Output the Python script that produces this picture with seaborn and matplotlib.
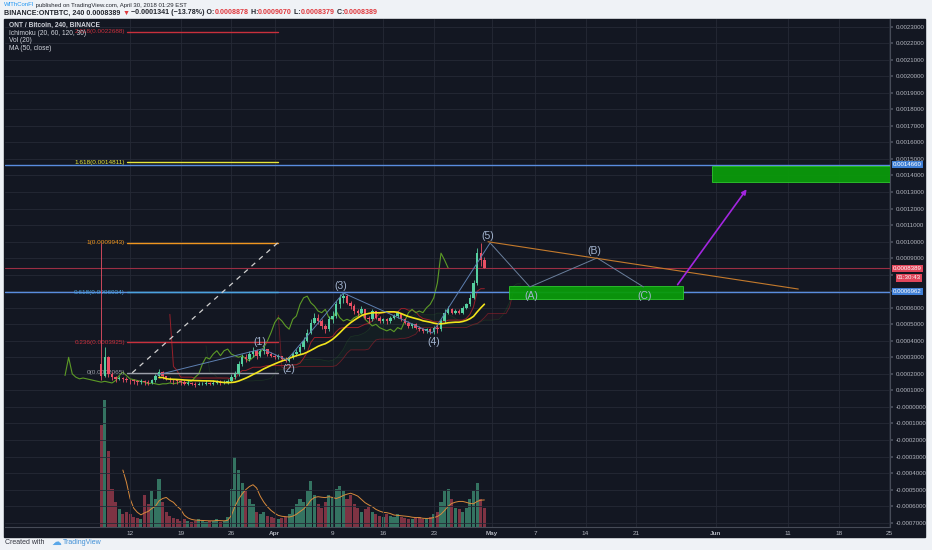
import numpy as np
import pandas as pd
import matplotlib
matplotlib.use("Agg")
import matplotlib.pyplot as plt
from matplotlib.patches import Rectangle
from matplotlib.ticker import FuncFormatter, FixedLocator
from matplotlib.transforms import blended_transform_factory
import seaborn as sns

# ONT/BTC, 12h candles (Mar 8 - Apr 30 2018)
first_open = 0.00026
close = [0.00019, 0.00030, 0.00020, 0.00018, 0.00017, 0.000175, 0.00017, 0.000165,
         0.00016, 0.000155, 0.00015, 0.000155, 0.00015, 0.000145, 0.00016, 0.00019,
         0.00021, 0.00019, 0.00017, 0.000165, 0.00016, 0.000155, 0.00015, 0.00014,
         0.000145, 0.00014, 0.000135, 0.00014, 0.00014, 0.000145, 0.00014, 0.000145,
         0.00015, 0.000145, 0.00015, 0.000155, 0.00018, 0.00020, 0.00026, 0.00030,
         0.00029, 0.00032, 0.00034, 0.00031, 0.00034, 0.00035, 0.00032, 0.00031,
         0.00030, 0.00031, 0.00029, 0.00028, 0.00030, 0.00032, 0.00033, 0.00036,
         0.00040, 0.00045, 0.00051, 0.00054, 0.00052, 0.00049, 0.00047, 0.00053,
         0.00055, 0.00062, 0.00066, 0.00067, 0.00063, 0.00061, 0.00058, 0.00057,
         0.00059, 0.00054, 0.00053, 0.00058, 0.00054, 0.00052, 0.00053, 0.00052,
         0.00054, 0.00055, 0.00057, 0.00053, 0.00051, 0.00049, 0.00050, 0.00048,
         0.00047, 0.00046, 0.00047, 0.000455, 0.00048, 0.00047, 0.00052, 0.00057,
         0.00059, 0.00057, 0.00058, 0.00057, 0.00060, 0.00062, 0.00066, 0.00075,
         0.00093, 0.0008878, 0.0008389]
high = [0.00099, 0.00036, 0.00031, 0.00021, 0.00019, 0.00019, 0.00018, 0.00018,
        0.00017, 0.00017, 0.00016, 0.00017, 0.00016, 0.00016, 0.00017, 0.00020,
        0.00023, 0.00022, 0.00019, 0.00018, 0.00017, 0.00017, 0.00016, 0.00016,
        0.00016, 0.00015, 0.00015, 0.00015, 0.00015, 0.00016, 0.00015, 0.00016,
        0.00016, 0.00016, 0.00016, 0.00017, 0.00020, 0.00022, 0.00028, 0.00032,
        0.00032, 0.00034, 0.00036, 0.00035, 0.00035, 0.00037, 0.00035, 0.00033,
        0.00032, 0.00032, 0.00031, 0.00030, 0.00031, 0.00033, 0.00035, 0.00038,
        0.00042, 0.00047, 0.00053, 0.00057, 0.00056, 0.00053, 0.00050, 0.00055,
        0.00058, 0.00064, 0.00068, 0.00069, 0.00068, 0.00064, 0.00062, 0.00059,
        0.00061, 0.00059, 0.00055, 0.00059, 0.00058, 0.00055, 0.00054, 0.00054,
        0.00055, 0.00056, 0.00058, 0.00057, 0.00054, 0.00052, 0.00051, 0.00051,
        0.00049, 0.00048, 0.00048, 0.00048, 0.00049, 0.00050, 0.00053, 0.00059,
        0.00061, 0.00060, 0.00059, 0.00059, 0.00061, 0.00063, 0.00068, 0.00077,
        0.00096, 0.00099, 0.000907]
low = [0.00016, 0.00018, 0.00018, 0.00016, 0.00015, 0.00016, 0.00015, 0.00015,
       0.00014, 0.00014, 0.00013, 0.00014, 0.00013, 0.00013, 0.00014, 0.00015,
       0.00018, 0.00017, 0.00016, 0.00015, 0.00014, 0.00014, 0.00013, 0.00013,
       0.00013, 0.00013, 0.00012, 0.00013, 0.00013, 0.00013, 0.00013, 0.00013,
       0.00014, 0.00013, 0.00014, 0.00014, 0.00015, 0.00017, 0.00019, 0.00025,
       0.00027, 0.00028, 0.00030, 0.00029, 0.00030, 0.00032, 0.00031, 0.00030,
       0.00029, 0.00029, 0.00028, 0.00027, 0.00027, 0.00029, 0.00031, 0.00032,
       0.00035, 0.00039, 0.00044, 0.00050, 0.00050, 0.00047, 0.00045, 0.00046,
       0.00051, 0.00054, 0.00060, 0.00063, 0.00062, 0.00059, 0.00056, 0.00055,
       0.00056, 0.00053, 0.00051, 0.00052, 0.00053, 0.00051, 0.00051, 0.00050,
       0.00051, 0.00053, 0.00054, 0.00052, 0.00050, 0.00048, 0.00048, 0.00047,
       0.00046, 0.00045, 0.00045, 0.00044, 0.00044, 0.00045, 0.00046, 0.00051,
       0.00056, 0.00056, 0.00056, 0.00056, 0.00056, 0.00059, 0.00061, 0.00065,
       0.00074, 0.00085, 0.0008379]
volume = [80, 100, 60, 30, 20, 14, 10, 12, 10, 8, 7, 6, 25, 18, 28, 22,
          38, 20, 12, 9, 7, 6, 5, 6, 5, 4, 5, 6, 5, 4, 5, 5,
          6, 4, 5, 8, 30, 55, 45, 35, 28, 22, 18, 12, 10, 12, 9, 8,
          7, 6, 7, 8, 10, 14, 18, 22, 20, 28, 36, 25, 18, 15, 20, 25,
          24, 30, 32, 28, 22, 25, 18, 15, 12, 14, 16, 12, 10, 9, 8, 10,
          9, 8, 10, 8, 7, 6, 6, 7, 8, 6, 7, 8, 10, 12, 20, 28,
          30, 22, 15, 14, 12, 15, 22, 28, 35, 22, 15]

# drawings on the chart
fib_ratios = [2.618, 1.618, 1, 0.618, 0.236, 0]
fib_prices = [0.0022688, 0.0014811, 0.0009943, 0.0006934, 0.0003925, 0.0002065]
fib_start, fib_end = "2018-03-11 14:00", "2018-04-01 11:00"
hline_prices = [0.0014660, 0.0006962]
last_price = 0.0008389
wave_labels = ["", "(1)", "(2)", "(3)", "(4)", "(5)", "(A)", "(B)", "(C)"]
wave_dates = ["2018-03-15 17:00", "2018-03-30 07:00", "2018-04-02 17:00", "2018-04-10 12:00",
              "2018-04-22 19:00", "2018-04-30 19:00", "2018-05-06 07:00", "2018-05-15 14:00",
              "2018-05-22 00:00"]
wave_prices = [0.000193, 0.000351, 0.000284, 0.000689, 0.000447, 0.000992, 0.000726, 0.000901, 0.000726]
zones = [("2018-05-03 10:00", "2018-05-27 12:00", 0.000653, 0.000732),
         ("2018-05-31 10:00", "2018-07-01 00:00", 0.001360, 0.001455)]
trend_dates = ["2018-04-30 12:00", "2018-06-12 10:00"]
trend_prices = [0.000999, 0.000713]
arrow_dates = ["2018-05-26 12:00", "2018-06-05 12:00"]
arrow_prices = [0.000726, 0.001330]
tick_dates = ["2018-03-12", "2018-03-19", "2018-03-26", "2018-04-01", "2018-04-09", "2018-04-16",
              "2018-04-23", "2018-05-01", "2018-05-07", "2018-05-14", "2018-05-21", "2018-06-01",
              "2018-06-11", "2018-06-18", "2018-06-25"]
tick_labels = ["12", "19", "26", "Apr", "9", "16", "23", "May", "7", "14", "21", "Jun", "11", "18", "25"]

df = pd.DataFrame({"date": pd.date_range("2018-03-08", periods=len(close), freq="12h"),
                   "close": close, "high": high, "low": low, "volume": volume})
df["open"] = df["close"].shift(1).fillna(first_open)
df["up"] = df["close"] >= df["open"]

# indicators (periods scaled from 4h to 12h bars)
def midpoint(n):
    return (df["high"].rolling(n).max() + df["low"].rolling(n).min()) / 2

df["ma50"] = df["close"].rolling(17).mean()
df["vol_ma"] = df["volume"].rolling(7).mean()
df["base"] = midpoint(20)
df["span_a"] = (midpoint(7) + df["base"]) / 2
df["span_b"] = midpoint(40)
shift = pd.Timedelta(days=5)

sns.set_theme(style="dark")
plt.rcParams["font.family"] = ["Liberation Sans", "DejaVu Sans"]

BG = "#131722"
UP, DOWN = "#56d0a0", "#ea5064"
TXT = "#b2b5be"

fig = plt.figure(figsize=(9.32, 5.5), dpi=100, facecolor="#eff2f6")
fig.patches.append(Rectangle((4 / 932, 13 / 550), 921 / 932, 518 / 550,
                             transform=fig.transFigure, color=BG, zorder=-5))
ax = fig.add_axes([5 / 932, 23 / 550, 885 / 932, 508 / 550])
vax = ax.twinx()
vax.set_zorder(1)
ax.set_zorder(2)
ax.patch.set_visible(False)
vax.set_facecolor(BG)

# volume
vol_colors = np.where(df["up"], UP, DOWN)
vax.bar(df["date"], df["volume"], width=0.42, color=vol_colors, alpha=0.5, linewidth=0)
sns.lineplot(data=df, x="date", y="vol_ma", ax=vax, color="#d88a3c", lw=0.7)
vax.set_ylim(0, 400)
vax.set_yticks([])
vax.set_ylabel("")
for s in vax.spines.values():
    s.set_visible(False)

# ichimoku
cloud_x = df["date"] + shift
ax.fill_between(cloud_x, df["span_a"], df["span_b"], where=df["span_a"] >= df["span_b"],
                color="#2e7d32", alpha=0.07, lw=0)
ax.fill_between(cloud_x, df["span_a"], df["span_b"], where=df["span_a"] < df["span_b"],
                color="#c62828", alpha=0.06, lw=0)
sns.lineplot(x=cloud_x, y=df["span_a"], ax=ax, color="#2a5a2a", lw=0.5, alpha=0.4)
sns.lineplot(x=cloud_x, y=df["span_b"], ax=ax, color="#8e1f2a", lw=0.6, alpha=0.7)
sns.lineplot(data=df, x="date", y="base", ax=ax, color="#99202a", lw=0.7)
sns.lineplot(x=df["date"] - shift, y=df["close"], ax=ax, color="#5c9a26", lw=0.8)

# candles
colors = np.where(df["up"], UP, DOWN)
ax.vlines(df["date"], df["low"], df["high"], colors=colors, lw=0.6, zorder=4)
ax.bar(df["date"], (df["close"] - df["open"]).abs(), bottom=df[["open", "close"]].min(axis=1),
       width=0.34, color=colors, linewidth=0, zorder=4)
sns.lineplot(data=df, x="date", y="ma50", ax=ax, color="#f3e41c", lw=1.2, zorder=5)

# horizontal lines
for p in hline_prices:
    ax.axhline(p, color="#5a8ddf", lw=1.0, zorder=3)
ax.axhline(last_price, color="#9b2e44", lw=0.8, zorder=3)

# fibonacci
fib_colors = ["#c9303c", "#e6e63a", "#f0961e", "#4aa3df", "#c9303c", "#9b9ea8"]
f0, f1 = pd.Timestamp(fib_start), pd.Timestamp(fib_end)
for r, p, c in zip(fib_ratios, fib_prices, fib_colors):
    ax.plot([f0, f1], [p, p], color=c, lw=1.0, zorder=3)
    ax.annotate(f"{r:g}({p:.7f})", xy=(f0, p), xytext=(-1.5, 0), textcoords="offset points",
                ha="right", va="center", fontsize=4.6, color=c)
ax.plot([pd.Timestamp("2018-03-12 07:00"), f1], [fib_prices[-1], fib_prices[2]],
        color="#d0d0d0", lw=0.9, ls=(0, (4, 4)), zorder=3)

# elliott waves
wd = pd.to_datetime(wave_dates)
ax.plot(wd[:6], wave_prices[:6], color="#5d7fb0", lw=0.7, zorder=6)
ax.plot(wd[5:], wave_prices[5:], color="#6a7f9c", lw=0.7, zorder=6)
for i, (lab, d, p) in enumerate(zip(wave_labels, wd, wave_prices)):
    if not lab:
        continue
    above = i % 2 == 1
    ax.annotate(lab, xy=(d, p), xytext=(-2, 1.5) if above else (1, -3),
                textcoords="offset points", ha="center", va="bottom" if above else "top",
                fontsize=7.5, color="#a3b4cf", zorder=7)

# zones, trend line and target arrow
for d0, d1, lo, hi in zones:
    t0, t1 = pd.Timestamp(d0), pd.Timestamp(d1)
    ax.add_patch(Rectangle((t0, lo), t1 - t0, hi - lo, facecolor="#0a9a0a",
                           edgecolor="#2fcf2f", lw=0.6, alpha=0.95, zorder=5))
ax.plot(pd.to_datetime(trend_dates), trend_prices, color="#c47a2c", lw=0.8, zorder=6)
ad = pd.to_datetime(arrow_dates)
ax.annotate("", xy=(ad[1], arrow_prices[1]), xytext=(ad[0], arrow_prices[0]),
            arrowprops=dict(arrowstyle="-|>", color="#a326e0", lw=1.2, mutation_scale=7), zorder=7)

# axes
base = pd.Timestamp("2018-03-12")
ax.set_xlim(base - pd.Timedelta(days=17.3), base + pd.Timedelta(days=105.1))
ax.set_ylim(-0.000726, 0.002346)
ax.set_xlabel("")
ax.set_ylabel("")
ax.yaxis.tick_right()
covered = [0.0014660, 0.0008389, 0.000787, 0.0006962]


def price_fmt(v, _):
    if any(abs(v - c) < 0.00002 for c in covered):
        return ""
    return "-0.0000000" if abs(v) < 1e-12 else f"{v:.7f}"


ax.yaxis.set_major_locator(FixedLocator(np.round(np.arange(-7, 24) * 0.0001, 7)))
ax.yaxis.set_major_formatter(FuncFormatter(price_fmt))
ax.set_xticks(pd.to_datetime(tick_dates))
ax.set_xticklabels(tick_labels)
for t in ax.get_xticklabels():
    if not t.get_text().isdigit():
        t.set_fontweight("bold")
        t.set_color("#e0e3eb")
ax.tick_params(axis="y", colors="#4a4f5c", labelcolor=TXT, labelsize=4.4, length=2, pad=2)
ax.tick_params(axis="x", colors="#4a4f5c", labelcolor=TXT, labelsize=4.6, length=2, pad=1)
ax.grid(True, color="#252a36", lw=0.6)
ax.set_axisbelow(True)
for k, s in ax.spines.items():
    s.set_visible(k in ("right", "bottom"))
    s.set_color("#464b57")
    s.set_linewidth(0.8)

# price labels on the scale
tr = blended_transform_factory(ax.transAxes, ax.transData)
for p in hline_prices:
    ax.text(1.003, p, f"{p:.7f}", transform=tr, ha="left", va="center", fontsize=4.4, color="white",
            bbox=dict(boxstyle="square,pad=0.18", fc="#3f7fd6", ec="none"), clip_on=False, zorder=10)
ax.text(1.003, last_price, f"{last_price:.7f}", transform=tr, ha="left", va="center", fontsize=4.4,
        color="white", bbox=dict(boxstyle="square,pad=0.18", fc="#e0455a", ec="none"),
        clip_on=False, zorder=10)
ax.annotate("01:30:43", xy=(1.0, last_price), xycoords=tr, xytext=(5, -7), textcoords="offset points",
            ha="left", va="center", fontsize=4.4, color="white",
            bbox=dict(boxstyle="square,pad=0.18", fc="#e0455a", ec="none"),
            annotation_clip=False, zorder=10)

# legend in the pane
legend_lines = ["ONT / Bitcoin, 240, BINANCE", "Ichimoku (20, 60, 120, 30)", "Vol (20)", "MA (50, close)"]
for i, s in enumerate(legend_lines):
    fig.text(9 / 932, 1 - (25.7 + 7.5 * i) / 550, s, color="#d1d4dc", fontsize=4.8,
             fontweight="bold" if i == 0 else "normal", va="center")


def chain(x, y, pieces, size, weight):
    prev = fig.text(x, y, pieces[0][0], color=pieces[0][1], fontsize=size, fontweight=weight, va="center")
    for s, c in pieces[1:]:
        prev = ax.annotate(s, xy=(1, 0.5), xycoords=prev, va="center", ha="left", fontsize=size,
                           fontweight=weight, color=c, annotation_clip=False)


DARK, RED = "#23262e", "#e0393e"
chain(4 / 932, 1 - 5 / 550, [("WIThConFI", "#2196f3"),
                             (" published on TradingView.com, April 30, 2018 01:29 EST", DARK)], 4.3, "normal")
chain(4 / 932, 1 - 13 / 550, [("BINANCE:ONTBTC, 240 0.0008389 ", DARK), ("▼", RED),
                              (" −0.0001341 (−13.78%) O:", DARK), ("0.0008878", RED), (" H:", DARK),
                              ("0.0009070", RED), (" L:", DARK), ("0.0008379", RED), (" C:", DARK),
                              ("0.0008389", RED)], 5.1, "bold")
fig.text(5 / 932, 1 - 542 / 550, "Created with", color="#333640", fontsize=5, va="center")
fig.text(51 / 932, 1 - 542 / 550, "☁", color="#5aa7e8", fontsize=7, va="center", family="DejaVu Sans")
fig.text(63 / 932, 1 - 542 / 550, "TradingView", color="#3f8fd6", fontsize=5, va="center")

fig.savefig("out.png", dpi=100, facecolor=fig.get_facecolor())
